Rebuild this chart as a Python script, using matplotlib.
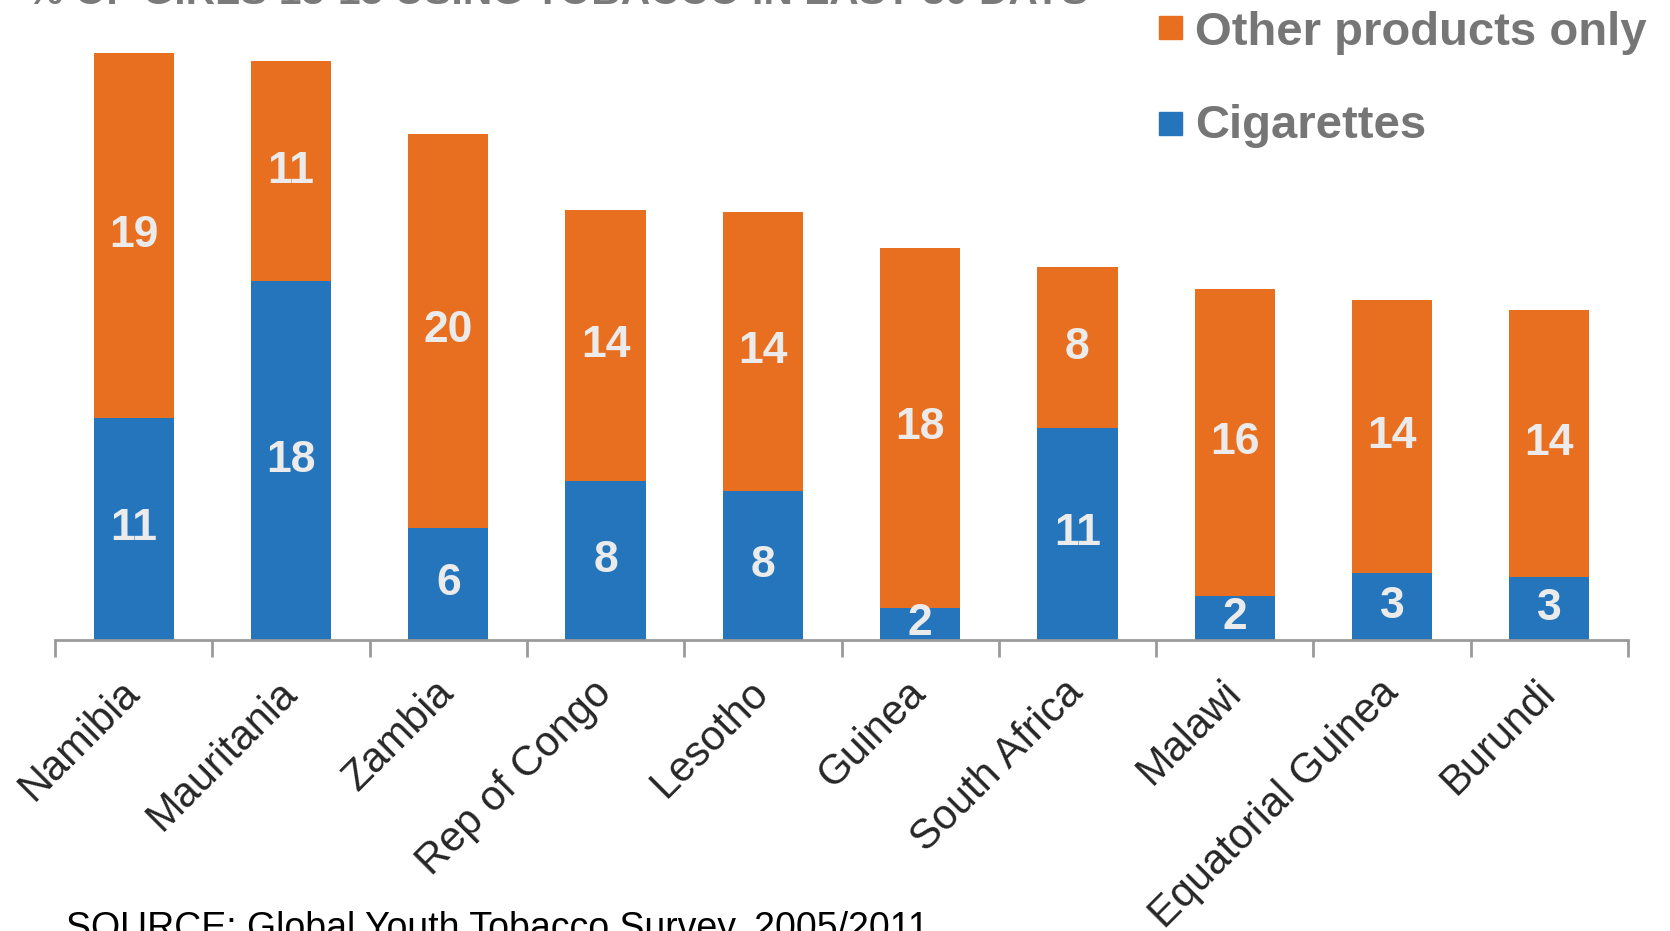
import numpy as np
import matplotlib.pyplot as plt
from matplotlib.patches import Rectangle

plt.rcParams['font.family'] = ['Liberation Sans', 'DejaVu Sans']

countries = ['Namibia', 'Mauritania', 'Zambia', 'Rep of Congo', 'Lesotho',
             'Guinea', 'South Africa', 'Malawi', 'Equatorial Guinea', 'Burundi']
cigarettes = [11.3, 18.3, 5.7, 8.1, 7.6, 1.6, 10.8, 2.2, 3.4, 3.2]
other_only = [18.6, 11.2, 20.1, 13.8, 14.2, 18.4, 8.2, 15.7, 13.9, 13.6]
cig_labels = ['11', '18', '6', '8', '8', '2', '11', '2', '3', '3']
other_labels = ['19', '11', '20', '14', '14', '18', '8', '16', '14', '14']

title = '% OF GIRLS 13-15 USING TOBACCO IN LAST 30 DAYS'
source = 'SOURCE: Global Youth Tobacco Survey, 2005/2011'

orange = '#E96F20'
blue = '#2475BC'
grey_txt = '#767676'
W, H = 1670, 931

fig = plt.figure(figsize=(W / 100, H / 100), dpi=100)
ax = fig.add_axes([55 / W, 1 - 639.5 / H, 1573 / W, 621 / H])

x = np.arange(len(countries))
b1 = ax.bar(x, cigarettes, width=0.51, color=blue, linewidth=0)
b2 = ax.bar(x, other_only, width=0.51, bottom=cigarettes, color=orange, linewidth=0)

lab_kw = dict(label_type='center', color='#EBEBEB', fontsize=32, fontweight='bold')
ax.bar_label(b1, labels=cig_labels, **lab_kw)
ax.bar_label(b2, labels=other_labels, **lab_kw)

ax.set_xlim(-0.5, len(countries) - 0.5)
ax.set_ylim(0, 621 / 19.6)

for s in ['left', 'top', 'right']:
    ax.spines[s].set_visible(False)
ax.spines['bottom'].set_color('#9A9A9A')
ax.spines['bottom'].set_linewidth(2)
ax.set_yticks([])

# tick marks between categories, labels at centres
ax.set_xticks(np.arange(-0.5, len(countries), 1.0), minor=True)
ax.tick_params(axis='x', which='minor', length=12, width=2, color='#9A9A9A', direction='out')
ax.set_xticks(x)
ax.set_xticklabels(countries, rotation=45, ha='right', va='center',
                   rotation_mode='anchor', fontsize=30, color='#262626')
ax.tick_params(axis='x', which='major', length=0, pad=34)

# title, cut off at the top edge like the original
fig.text(1088 / W, 1 - 4 / H, title, ha='right', va='baseline',
         fontsize=29.3, fontweight='bold', color='#7A7A7A')

# legend drawn by hand
for (y0, col, txt, base) in [(16, orange, 'Other products only', 45),
                             (112, blue, 'Cigarettes', 138)]:
    fig.patches.append(Rectangle((1159 / W, 1 - (y0 + 23) / H), 23 / W, 23 / H,
                                 transform=fig.transFigure, color=col))
    fig.text(1195 / W, 1 - base / H, txt, ha='left', va='baseline',
             fontsize=34, fontweight='bold', color=grey_txt)

fig.text(66 / W, 1 - 939 / H, source, ha='left', va='baseline',
         fontsize=27, color='black')

fig.savefig('out.png', dpi=100)
